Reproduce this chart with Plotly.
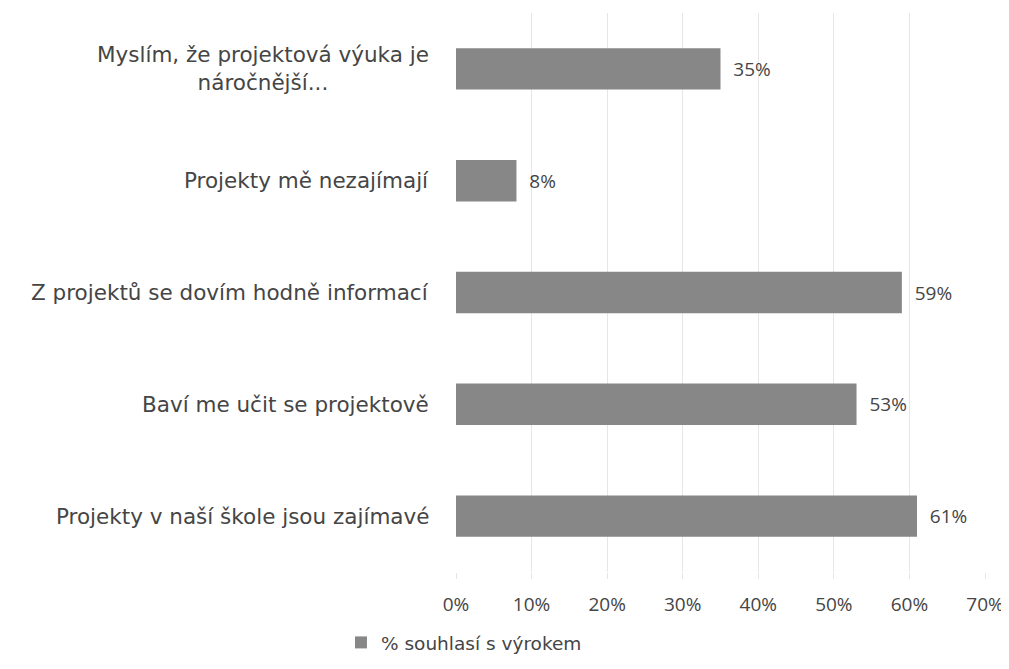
import plotly.graph_objects as go

categories = [
    "Projekty v naší škole jsou zajímavé",
    "Baví me učit se projektově",
    "Z projektů se dovím hodně informací",
    "Projekty mě nezajímají",
    "Myslím, že projektová výuka je<br>náročnější...",
]
values = [0.61, 0.53, 0.59, 0.08, 0.35]
series_name = "% souhlasí s výrokem"
tick_vals = [0, 0.1, 0.2, 0.3, 0.4, 0.5, 0.6, 0.7]
tick_text = ["0%", "10%", "20%", "30%", "40%", "50%", "60%", "70%"]

NUMFONT = "Open Sans"
LBLFONT = "DejaVu Sans"
TXT = "#454545"

fig = go.Figure()
fig.add_trace(go.Bar(
    y=categories, x=values, orientation="h", name=series_name,
    marker=dict(color="#878787", line=dict(width=0)),
    width=0.37,
    texttemplate="\u00a0\u00a0%{x:.0%}", textposition="outside",
    textfont=dict(family=NUMFONT, size=19, color=TXT),
    cliponaxis=False, showlegend=True,
))

for c in categories:
    fig.add_annotation(
        x=-0.048, xref="paper", y=c, yref="y", text=c, showarrow=False,
        xanchor="right", align="center",
        font=dict(family=LBLFONT, size=21.5, color=TXT),
    )

fig.update_layout(
    width=1009, height=669,
    margin=dict(l=448, r=32, t=5, b=105, autoexpand=False),
    paper_bgcolor="white", plot_bgcolor="white",
    font=dict(family=NUMFONT, size=19, color=TXT),
    xaxis=dict(range=[0, 0.7], tickvals=tick_vals, ticktext=tick_text,
               showgrid=True, gridcolor="#e6e6e6", gridwidth=1,
               zeroline=False, showline=False, automargin=False,
               ticks="outside", ticklen=6, tickcolor="#e6e6e6",
               ticklabelstandoff=9,
               tickfont=dict(family=NUMFONT, size=19, color=TXT)),
    yaxis=dict(categoryorder="array", categoryarray=categories,
               showticklabels=False, showgrid=False, zeroline=False,
               showline=False, automargin=False),
    legend=dict(orientation="h", xref="container", yref="container",
                x=0.33, y=0.051, xanchor="left", yanchor="middle",
                font=dict(family=LBLFONT, size=18.5, color=TXT),
                itemwidth=30),
)

fig.write_html("out.html")
